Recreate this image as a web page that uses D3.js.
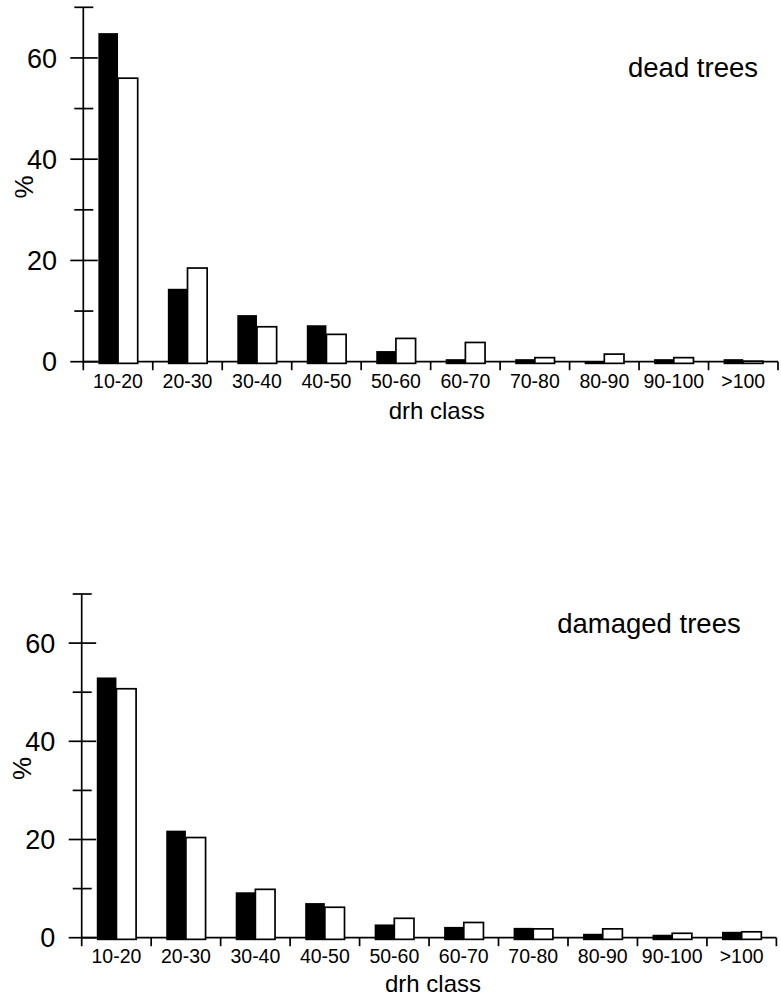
<!DOCTYPE html>
<html>
<head>
<meta charset="utf-8">
<script src="https://cdn.jsdelivr.net/npm/d3@7/dist/d3.min.js"></script>
<style>
  html, body { margin: 0; padding: 0; background: #fff; }
  svg { display: block; }
  text { font-family: "Liberation Sans", Arial, Helvetica, sans-serif; fill: #000; }
</style>
</head>
<body>
<svg id="chart" width="781" height="999"></svg>
<script>
// diameter classes (cm)
const categories = ["10-20", "20-30", "30-40", "40-50", "50-60", "60-70", "70-80", "80-90", "90-100", ">100"];

// dead trees, % per class: filled bars and open bars
const deadFilled = [64.9, 14.4, 9.2, 7.2, 2.1, 0.5, 0.5, 0.0, 0.5, 0.5];
const deadOpen   = [56.0, 18.5, 6.9, 5.4, 4.6, 3.8, 0.8, 1.5, 0.8, 0.1];

// damaged trees, % per class: filled bars and open bars
const damagedFilled = [53.0, 21.8, 9.25, 7.05, 2.7, 2.2, 2.0, 0.8, 0.6, 1.2];
const damagedOpen   = [50.7, 20.4, 9.85, 6.2, 3.95, 3.1, 1.8, 1.8, 0.9, 1.2];

// y axis ticks
const majorTicks = [0, 20, 40, 60];
const minorTicks = [10, 30, 50, 70];
const yMax = 70;

const titles = ["dead trees", "damaged trees"];
const xTitle = "drh class";
const yTitle = "%";

const svg = d3.select("#chart");

const panels = [
  { title: titles[0], filled: deadFilled, open: deadOpen,
    left: 83.3, right: 778, yZero: 361.7, yTop: 7.3,
    tickLabelDy: 26.6, xTitleDy: 57.3, xTitleDx: 6, titleX: 758, titleY: 76.7 },
  { title: titles[1], filled: damagedFilled, open: damagedOpen,
    left: 81.7, right: 776.4, yZero: 937.7, yTop: 594,
    tickLabelDy: 25.6, xTitleDy: 54, xTitleDx: 4, titleX: 740.7, titleY: 633.3 }
];

panels.forEach(p => {
  const g = svg.append("g");

  const x = d3.scaleBand().domain(categories).range([p.left, p.right]).padding(0);
  const y = d3.scaleLinear().domain([0, yMax]).range([p.yZero, p.yTop]);

  const sw = 1.7;
  const tickLen = 8.5;

  // x axis baseline and class boundary ticks
  g.append("line")
    .attr("x1", p.left).attr("x2", p.right)
    .attr("y1", y(0)).attr("y2", y(0))
    .attr("stroke", "#000").attr("stroke-width", sw);

  const boundaries = categories.map(c => x(c)).concat([p.right]);
  g.selectAll(".xtick").data(boundaries.slice(1)).join("line")
    .attr("x1", d => d).attr("x2", d => d)
    .attr("y1", y(0)).attr("y2", y(0) + tickLen)
    .attr("stroke", "#000").attr("stroke-width", sw);

  // y axis line (runs slightly below the baseline)
  g.append("line")
    .attr("x1", p.left).attr("x2", p.left)
    .attr("y1", y(yMax)).attr("y2", y(0) + tickLen)
    .attr("stroke", "#000").attr("stroke-width", sw);

  g.selectAll(".ymajor").data(majorTicks).join("line")
    .attr("x1", p.left - 13).attr("x2", p.left + 14.5)
    .attr("y1", d => y(d)).attr("y2", d => y(d))
    .attr("stroke", "#000").attr("stroke-width", sw);

  g.selectAll(".yminor").data(minorTicks).join("line")
    .attr("x1", p.left - 9).attr("x2", p.left + 10)
    .attr("y1", d => y(d)).attr("y2", d => y(d))
    .attr("stroke", "#000").attr("stroke-width", sw);

  g.selectAll(".ylab").data(majorTicks).join("text")
    .attr("x", p.left - 26.3)
    .attr("y", d => y(d))
    .attr("dy", "0.36em")
    .attr("text-anchor", "end")
    .style("font-size", "27px")
    .text(d => d);

  // bars: filled bar left of the class centre, open bar right of it
  const barW = x.bandwidth() * 0.283;
  const drop = 2.5;
  const data = categories.map((c, i) => ({ c, f: p.filled[i], o: p.open[i] }));

  g.selectAll(".barF").data(data).join("rect")
    .attr("x", d => x(d.c) + x.bandwidth() / 2 - barW)
    .attr("y", d => y(d.f))
    .attr("width", barW)
    .attr("height", d => y(0) + drop - y(d.f))
    .attr("fill", "#000");

  g.selectAll(".barO").data(data).join("rect")
    .attr("x", d => x(d.c) + x.bandwidth() / 2)
    .attr("y", d => y(d.o))
    .attr("width", barW)
    .attr("height", d => y(0) + drop - y(d.o) - sw / 2)
    .attr("fill", "#fff")
    .attr("stroke", "#000")
    .attr("stroke-width", sw);

  // class labels
  g.selectAll(".xlab").data(categories).join("text")
    .attr("x", d => x(d) + x.bandwidth() / 2)
    .attr("y", y(0) + p.tickLabelDy)
    .attr("text-anchor", "middle")
    .style("font-size", "19.5px")
    .text(d => d);

  g.append("text")
    .attr("x", (p.left + p.right) / 2 + p.xTitleDx)
    .attr("y", y(0) + p.xTitleDy)
    .attr("text-anchor", "middle")
    .style("font-size", "24px")
    .text(xTitle);

  g.append("text")
    .attr("transform", `translate(${p.left - 60},${y(35) + 2.5}) rotate(-90)`)
    .attr("text-anchor", "middle")
    .attr("dy", "0.36em")
    .style("font-size", "26px")
    .text(yTitle);

  g.append("text")
    .attr("x", p.titleX)
    .attr("y", p.titleY)
    .attr("text-anchor", "end")
    .style("font-size", "27.5px")
    .text(p.title);
});
</script>
</body>
</html>
